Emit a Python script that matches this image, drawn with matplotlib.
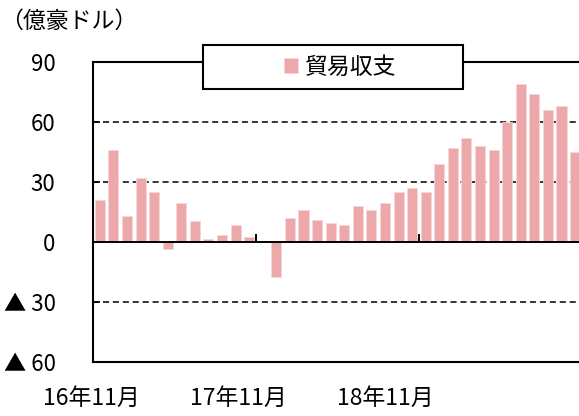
import matplotlib
matplotlib.use("Agg")
import matplotlib.pyplot as plt
from matplotlib.patches import Rectangle
from matplotlib.transforms import blended_transform_factory

plt.rcParams['font.family'] = ['Noto Sans CJK JP', 'DejaVu Sans']

# categories: monthly, 2016-11 .. 2019-10
months = ["16/11", "16/12", "17/01", "17/02", "17/03", "17/04", "17/05", "17/06",
          "17/07", "17/08", "17/09", "17/10", "17/11", "17/12", "18/01", "18/02",
          "18/03", "18/04", "18/05", "18/06", "18/07", "18/08", "18/09", "18/10",
          "18/11", "18/12", "19/01", "19/02", "19/03", "19/04", "19/05", "19/06",
          "19/07", "19/08", "19/09", "19/10"]
trade_balance = [21, 46, 13, 32, 25, -3.5, 19.5, 10.5, 1.5, 3.5, 8.5, 2.5,
                 0, -17.5, 12, 16, 11, 9.5, 8.5, 18, 16, 19.5, 25, 27,
                 25, 39, 47, 52, 48, 46, 60, 79, 74, 66, 68, 45]
series_name = "貿易収支"
unit_label = "（億豪ドル）"
ytick_values = [-60, -30, 0, 30, 60, 90]
ytick_labels = ["▲ 60", "▲ 30", "0", "30", "60", "90"]
xlabel_texts = ["16年11月", "17年11月", "18年11月"]
xlabel_pos = [-0.65, 10.18, 21.0]
xtick_marks = [11.5, 23.5]

W, H = 579, 416
fig = plt.figure(figsize=(W / 100, H / 100), dpi=100)
ax = fig.add_axes([93 / W, 1 - 362 / H, 1 - 93 / W, 300 / H])

bar_color = '#EDA9A9'
x = list(range(len(months)))
ax.bar(x, trade_balance, width=0.74, color=bar_color, edgecolor='#F6D6D6',
       linewidth=0.6, zorder=2, label=series_name)

ax.set_xlim(-0.5, 35.29)
ax.set_ylim(-60, 90)

for v in [60, 30, -30]:
    ax.axhline(v, color='black', lw=1.1, ls=(0, (4, 2.5)), zorder=1)
ax.axhline(0, color='black', lw=1.4, zorder=3)

ax.spines['right'].set_visible(False)
for s in ['left', 'top', 'bottom']:
    ax.spines[s].set_linewidth(1.5)

ax.set_yticks(ytick_values)
ax.set_yticklabels(ytick_labels, fontsize=16)
ax.tick_params(axis='y', direction='in', length=5, width=1.2, pad=27)

ax.set_xticks([])
for xt in xtick_marks:
    ax.plot([xt, xt], [0, 3.5], color='black', lw=1.4, zorder=3)

trans = blended_transform_factory(ax.transData, ax.transAxes)
for t, p in zip(xlabel_texts, xlabel_pos):
    ax.text(p, -0.12, t, transform=trans, ha='center', va='center', fontsize=16.5)

fig.text(0 / W, 1 - 21 / H, unit_label, ha='left', va='center', fontsize=16.5)

# legend box
fig.patches.append(Rectangle((203 / W, 1 - 89 / H), 260 / W, 44 / H,
                             transform=fig.transFigure, facecolor='white',
                             edgecolor='black', lw=1.5, zorder=4))
leg = fig.legend(loc='center', bbox_to_anchor=(340 / W, 1 - 67 / H), frameon=False,
                 fontsize=16.5, handlelength=0.6, handleheight=0.6,
                 handletextpad=0.3, borderpad=0)
leg.set_zorder(5)

fig.savefig('out.png', dpi=100)
